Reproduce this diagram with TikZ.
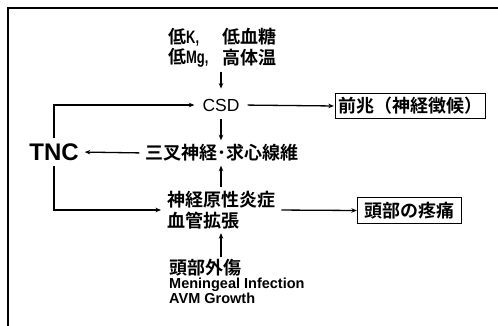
\documentclass[tikz,border=0pt]{standalone}
\usepackage{fontspec}
\usepackage{graphicx}
\usetikzlibrary{arrows.meta}
\newfontfamily\jp{Noto Sans CJK JP}[BoldFont={Noto Sans CJK JP Bold}]
\newfontfamily\lat{Liberation Sans}
\newcommand{\narrowlat}[1]{{\lat\bfseries\fontsize{18}{18}\selectfont\scalebox{0.72}[1]{#1}}}
\begin{document}
\begin{tikzpicture}[x=1pt,y=-1pt,
  jt/.style={font=\jp\bfseries\fontsize{18}{21}\selectfont, inner sep=0pt, align=left},
  lt/.style={font=\lat\fontsize{17.5}{20}\selectfont, inner sep=0pt},
  boxed/.style={jt, draw, line width=1.3pt, inner xsep=3pt, minimum height=25.5pt},
  arr/.style={line width=1.3pt, -{Stealth[length=5.5pt,width=4.5pt]}},
  ln/.style={line width=1.3pt}]
\useasboundingbox (0,0) rectangle (498,326);
\draw[line width=2pt] (8,326) -- (8,8) -- (498,8);
% nodes
\node[jt, anchor=west] (c1) at (168,37) {低\narrowlat{K,}};
\node[jt, anchor=west] (c2) at (222,37) {低血糖};
\node[jt, anchor=west] (c3) at (168,58) {低\narrowlat{Mg,}};
\node[jt, anchor=west] (c4) at (222,58) {高体温};
\node[lt] (csd) at (221,105) {CSD};
\node[boxed] (aura) at (410.5,106) {前兆（神経徴候）};
\node[lt, font=\lat\bfseries\fontsize{24}{26}\selectfont] (tnc) at (54,152) {TNC};
\node[jt] (tri) at (222,153) {三叉神経･求心線維};
\node[jt, anchor=west] (neuro) at (167,210) {神経原性炎症\\血管拡張};
\node[boxed, inner xsep=7pt] (pain) at (409.5,210.5) {頭部の疼痛};
\node[anchor=north west, inner sep=0pt, align=left] (trig) at (169,259) {{\jp\bfseries\fontsize{18}{18}\selectfont 頭部外傷}\\[1pt]{\lat\bfseries\fontsize{14.5}{18.5}\selectfont Meningeal Infection}\\{\lat\bfseries\fontsize{14.5}{18.5}\selectfont AVM Growth}};
% vertical arrows
\draw[arr, shorten <=5pt, shorten >=10pt] (c4.south -| csd) -- (csd.north);
\draw[arr, shorten <=8pt, shorten >=4pt] (csd.south) -- (tri.north -| csd);
\draw[arr, shorten <=4pt, shorten >=4pt] (neuro.north -| csd) -- (tri.south -| csd);
\draw[arr, shorten <=2pt, shorten >=4pt] (trig.north -| csd) -- (neuro.south -| csd);
% horizontal
\draw[arr, shorten <=8pt, shorten >=1pt] (csd.east) -- (aura.west);
\draw[arr, shorten <=6pt, shorten >=6pt] (tri.west) -- (tnc.east);
\draw[arr, shorten <=6pt, shorten >=0pt] (neuro.east) -- (pain.west);
\draw[arr, shorten <=5pt, shorten >=8pt] (tnc.north) |- (csd.west);
\draw[arr, shorten <=5pt, shorten >=6pt] (tnc.south) |- (neuro.west);
\end{tikzpicture}
\end{document}
